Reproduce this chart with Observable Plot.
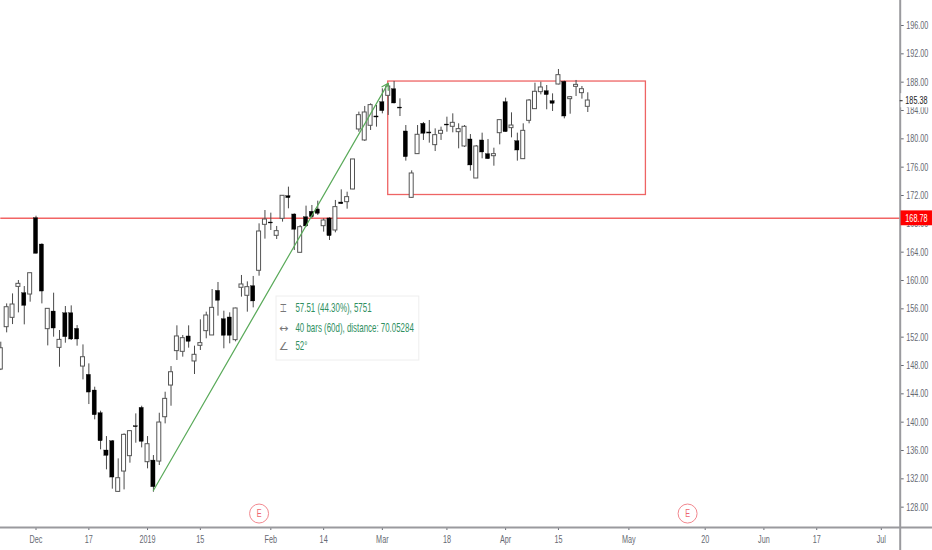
<!DOCTYPE html>
<html><head><meta charset="utf-8">
<style>html,body{margin:0;padding:0;background:#fff;overflow:hidden}svg{display:block}</style>
<script src="https://cdn.jsdelivr.net/npm/d3@7"></script>
<script src="https://cdn.jsdelivr.net/npm/@observablehq/plot@0.6"></script>
</head><body><div id="chart"></div>
<script>
const open=[147.43,153.41,154.73,159.10,158.21,158.02,168.80,165.08,153.13,155.62,150.49,155.38,155.38,153.17,147.85,146.68,144.47,141.27,136.00,137.31,130.16,133.03,135.20,139.43,142.02,134.35,134.58,134.44,140.70,145.17,
150.03,149.93,152.10,148.57,150.78,152.85,152.24,158.54,154.54,154.78,151.58,158.97,157.84,159.20,161.37,167.86,168.19,166.31,168.71,171.91,169.32,163.91,168.94,169.70,170.03,167.67,168.76,167.06,171.01,171.06,
172.85,181.32,179.77,181.84,183.16,185.18,186.07,187.01,184.42,181.04,171.67,177.84,182.12,180.90,179.11,180.71,182.02,181.70,180.94,178.92,179.91,174.40,179.77,177.84,177.55,180.80,185.18,181.51,179.67,177.13,
182.54,184.19,186.59,186.73,185.32,187.67,188.05,185.60,187.34,186.45,184.52];
const high=[151.29,156.70,158.11,160.00,159.15,161.03,169.08,165.17,156.00,158.21,152.94,156.33,156.42,153.64,150.91,148.23,144.94,141.55,137.97,137.41,134.82,138.35,138.82,141.17,142.25,137.97,135.29,141.26,144.23,147.85,
153.60,152.24,153.60,150.73,154.45,155.53,158.73,159.72,155.67,155.44,156.10,160.71,159.81,160.57,168.00,169.88,169.51,167.63,172.00,173.18,169.41,167.77,170.50,170.59,171.20,168.71,168.85,171.30,172.80,172.47,
177.09,183.77,184.57,184.94,184.71,187.06,187.77,188.10,185.65,181.88,175.48,181.88,182.31,182.59,181.41,181.65,183.06,183.53,182.12,181.88,180.61,179.06,180.80,179.91,178.68,182.68,185.74,183.67,180.80,182.12,
185.55,187.86,188.00,187.53,186.35,189.79,188.14,185.98,188.24,187.39,186.50];
const low=[147.29,152.61,153.78,155.43,153.74,156.94,163.76,156.70,150.77,152.00,147.76,151.15,151.53,150.73,145.97,142.49,140.33,136.09,133.27,130.54,130.07,130.44,134.21,137.03,136.37,133.41,130.11,133.88,139.76,142.25,
148.71,149.18,150.45,146.73,150.12,151.77,152.24,154.97,150.36,151.06,151.34,157.65,155.53,156.14,160.61,165.84,167.06,165.79,168.24,170.12,164.24,163.91,167.53,168.71,169.18,166.83,165.65,166.73,170.73,170.07,
172.80,180.94,179.63,181.18,181.65,183.53,183.30,184.94,183.15,176.85,171.62,177.79,179.77,179.39,178.21,179.77,180.94,180.85,178.59,178.78,175.44,174.40,177.18,177.08,176.14,179.15,180.94,180.14,176.85,177.08,
182.12,184.14,186.21,184.10,183.86,187.62,182.82,183.48,185.98,185.60,183.72];
const close=[150.44,156.23,156.61,159.53,156.42,161.03,163.76,158.44,156.00,153.22,151.62,152.00,151.67,151.67,149.17,144.18,140.98,137.31,135.24,132.18,132.09,138.21,138.73,139.29,137.22,136.89,130.82,139.95,143.29,147.05,
152.10,151.86,151.34,149.51,151.16,155.06,156.14,157.13,152.19,152.19,156.05,159.44,159.06,157.04,166.92,168.61,168.05,166.97,171.96,171.63,167.16,167.53,167.63,168.94,169.41,168.47,166.26,170.36,170.78,171.77,
177.09,183.34,183.72,184.76,183.01,183.91,187.39,184.99,184.28,177.41,175.11,180.57,180.71,180.75,180.52,181.13,181.88,182.26,181.37,181.70,176.24,178.92,178.07,177.13,177.84,182.64,180.94,181.88,178.35,181.13,
185.41,186.64,187.25,186.17,184.94,188.99,183.15,185.88,187.62,187.01,185.41];

const priceTicks=[128,132,136,140,144,148,152,156,160,164,168,172,176,180,184,188,192,196];
const timeTickBars=[6,15,25,34,46,55,65,76,86,95,107,120,130,139,150];
const timeTickLabels=["Dec","17","2019","15","Feb","14","Mar","18","Apr","15","May","20","Jun","17","Jul"];
const earningsBars=[44,117];
const levelPrice=168.78, lastPrice=185.38;
const trend={startBar:26,startPrice:130.35,endBar:66,endPrice:187.86};
const range={startBar:66,endBar:109.9,top:188.09,bottom:172.07};
const infoLines=["57.51 (44.30%), 5751","40 bars (60d), distance: 70.05284","52°"];
const infoIcons=["⌶","↔","∠"];
const infoPrices=[156.04,153.22,150.68];

const candles=open.map((o,i)=>({i,o,h:high[i],l:low[i],c:close[i]}));
const up=candles.filter(d=>d.c>=d.o), down=candles.filter(d=>d.c<d.o);
const font="'Liberation Sans',sans-serif";
const axisGray="#666972";
const xEnd=153.22, xFar=158.72, yBottom=125.13, yFar=121.88;

const chart=Plot.plot({
  width:932,height:550,marginLeft:0,marginRight:32.3,marginTop:0,marginBottom:23,
  style:{fontFamily:font,fontSize:"10.5px",background:"#fff"},
  x:{type:"linear",domain:[-0.05,xEnd],axis:null},
  y:{type:"linear",domain:[yBottom,199.53],axis:null},
  marks:[
    Plot.ruleY([levelPrice],{x1:0,x2:xEnd,stroke:"#f26464",strokeWidth:1.4}),
    Plot.rect([range],{x1:"startBar",x2:"endBar",y1:"bottom",y2:"top",fill:"none",stroke:"#ee6464",strokeWidth:1.3}),
    Plot.ruleX(candles,{x:"i",y1:"l",y2:"h",stroke:"#4a4a4a",strokeWidth:1}),
    Plot.rect(up,{x1:d=>d.i-0.34,x2:d=>d.i+0.34,y1:"o",y2:"c",fill:"#fff",stroke:"#555",strokeWidth:1}),
    Plot.rect(down,{x1:d=>d.i-0.36,x2:d=>d.i+0.36,y1:"o",y2:"c",fill:"#000",stroke:"#000",strokeWidth:0.3}),
    Plot.arrow([trend],{x1:"startBar",y1:"startPrice",x2:"endBar",y2:"endPrice",stroke:"#5aaa5a",strokeWidth:1.2,headLength:9,bend:0}),
    Plot.rect([0],{x1:46.97,x2:71.3,y1:148.7,y2:157.74,fill:"#fff",fillOpacity:0.92,stroke:"#eeeeee",strokeWidth:1}),
    Plot.text(infoLines,{x:50.2,y:(d,i)=>infoPrices[i],text:d=>d,textAnchor:"start",fill:"#2f8f5f",fontSize:12}),
    Plot.text(infoIcons,{x:48.2,y:(d,i)=>infoPrices[i],text:d=>d,fill:"#777",fontSize:11,fontFamily:"DejaVu Sans"}),
    Plot.dot(earningsBars,{x:d=>d,y:127.1,r:9.5,fill:"#fff",stroke:"#f2888f",strokeWidth:1}),
    Plot.text(earningsBars,{x:d=>d,y:127.1,text:()=>"E",fill:"#ee6570",fontSize:10.5}),
    Plot.axisY({anchor:"right",ticks:priceTicks,tickFormat:d=>d.toFixed(2),tickSize:3,tickPadding:3,label:null,color:axisGray,fontSize:10.5}),
    Plot.axisX({anchor:"bottom",ticks:timeTickBars,tickFormat:d=>timeTickLabels[timeTickBars.indexOf(d)],tickSize:3,tickPadding:5,label:null,color:axisGray,fontSize:10.5}),
    Plot.ruleX([xEnd],{y1:yFar,y2:199.53,stroke:"#9a9a9e",strokeWidth:2}),
    Plot.ruleY([yBottom],{x1:-0.05,x2:xFar,stroke:"#9a9a9e",strokeWidth:2}),
    Plot.rect([lastPrice],{x1:xEnd+0.15,x2:xFar,y1:d=>d-1,y2:d=>d+1,fill:"#fff"}),
    Plot.text([lastPrice],{x:xFar,dx:-5,y:d=>d,text:d=>d.toFixed(2),textAnchor:"end",fill:"#222"}),
    Plot.ruleY([lastPrice],{x1:xEnd,x2:xEnd+0.5,stroke:"#222",strokeWidth:1}),
    Plot.rect([levelPrice],{x1:xEnd+0.15,x2:xFar,y1:d=>d-1.05,y2:d=>d+1.05,fill:"#f00"}),
    Plot.text([levelPrice],{x:xFar,dx:-5,y:d=>d,text:d=>d.toFixed(2),textAnchor:"end",fill:"#fff"})
  ]
});
document.getElementById("chart").appendChild(chart);
// The reference's lettering is condensed; no narrow font is installed, so narrow the real text horizontally.
chart.querySelectorAll("text").forEach(t=>{
  if(infoIcons.includes(t.textContent)) return;
  const k=infoLines.includes(t.textContent)?0.66:0.69;
  const base=t.getAttribute("transform")||"";
  t.setAttribute("transform",(base+" scale("+k+",1)").trim());
});
</script></body></html>
